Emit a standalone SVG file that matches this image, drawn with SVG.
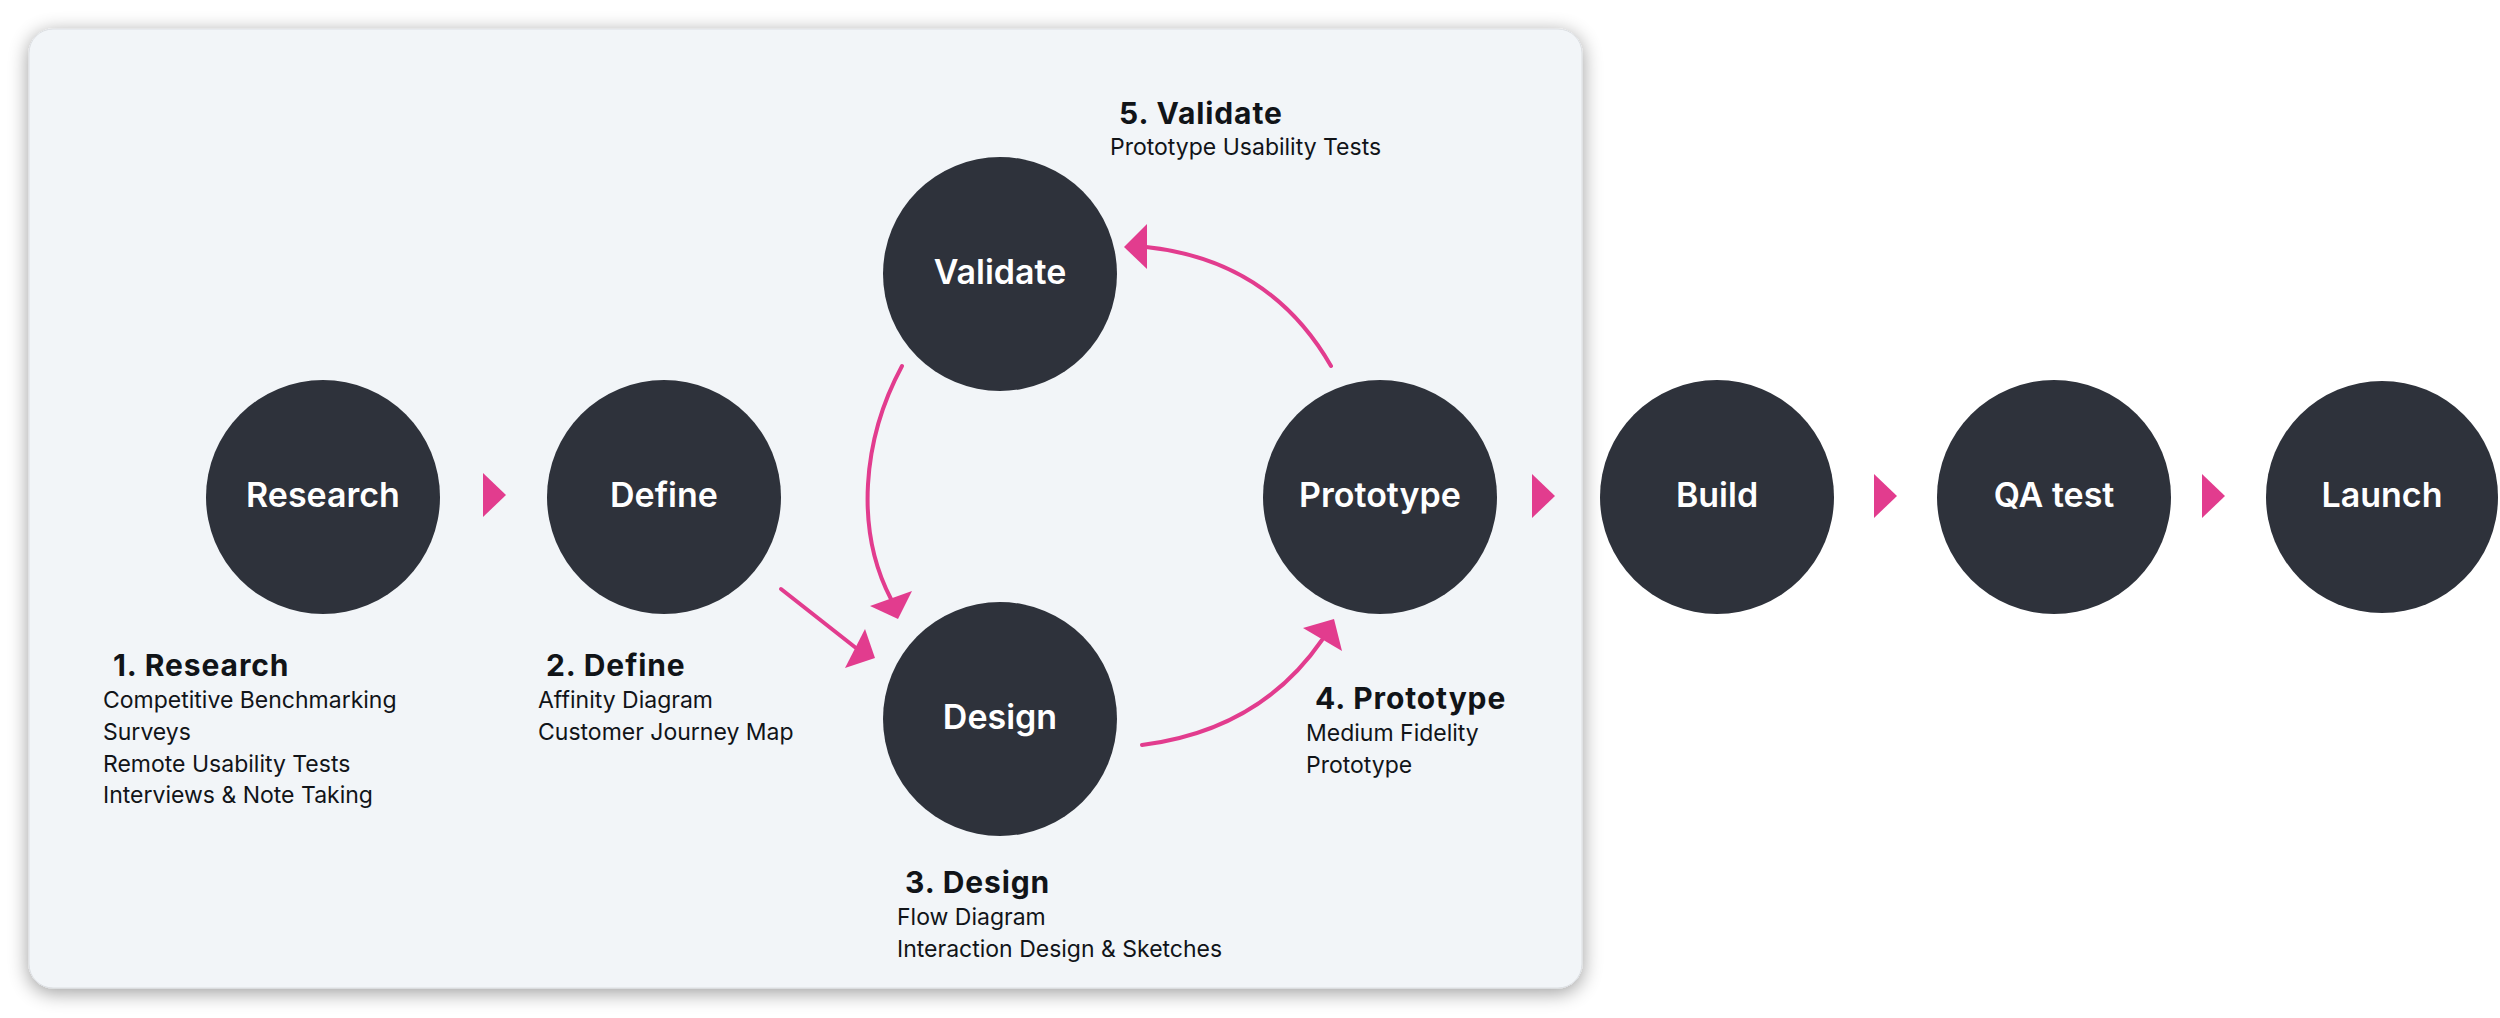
<svg xmlns="http://www.w3.org/2000/svg" width="2500" height="1018" viewBox="0 0 2500 1018">
<defs>
<filter id="sh" x="-5%" y="-8%" width="110%" height="116%">
<feGaussianBlur in="SourceAlpha" stdDeviation="10"/>
<feOffset dy="4" result="b"/>
<feComponentTransfer><feFuncA type="linear" slope="0.4"/></feComponentTransfer>
<feMerge><feMergeNode/><feMergeNode in="SourceGraphic"/></feMerge>
</filter>
<style>
.node{fill:#2E323B}
.nl{font-family:Inter,"Noto Sans",sans-serif;font-weight:600;font-size:34px;fill:#FFFFFF;text-anchor:middle}
.hd{font-family:Inter,"Noto Sans",sans-serif;font-weight:700;font-size:30px;fill:#111418;letter-spacing:0.9px}
.sb{font-family:Inter,"Noto Sans",sans-serif;font-weight:400;font-size:23px;fill:#111418;letter-spacing:0px}
.cn{fill:none;stroke:#E23C8E;stroke-width:4;stroke-linecap:round}
.ah{fill:#E23C8E}
</style>
</defs>
<rect width="2500" height="1018" fill="#FFFFFF"/>
<rect id="panel" x="29" y="29" width="1553" height="959" rx="24" fill="#F2F5F8" stroke="#DCDFE3" stroke-width="1" filter="url(#sh)"/>

<g id="connectors">
<polygon class="ah" points="483,473 483,517 506,495"/>
<polygon class="ah" points="1532,474 1532,518 1555,496"/>
<polygon class="ah" points="1874,474 1874,518 1897,496"/>
<polygon class="ah" points="2202,474 2202,518 2225,496"/>
<path class="cn" d="M781,589 L856,648"/>
<polygon class="ah" points="865,629 875,658 845,668"/>
<path class="cn" d="M902,366 C862,440 855,530 891,599"/>
<polygon class="ah" points="870,606 912,591 898,619"/>
<path class="cn" d="M1142,745 Q1260,730 1322,640"/>
<polygon class="ah" points="1303,628 1334,619 1342,651"/>
<path class="cn" d="M1331,366 Q1270,260 1146,247"/>
<polygon class="ah" points="1147,224 1147,269 1124,247"/>
</g>

<g id="research">
<circle class="node" cx="323" cy="497" r="117"/>
<text class="nl" x="323" y="507">Research</text>
<text class="hd" x="113" y="676">1. Research</text>
<text class="sb" x="103" y="708">Competitive Benchmarking</text>
<text class="sb" x="103" y="740">Surveys</text>
<text class="sb" x="103" y="772">Remote Usability Tests</text>
<text class="sb" x="103" y="803">Interviews &amp; Note Taking</text>
</g>
<g id="define">
<circle class="node" cx="664" cy="497" r="117"/>
<text class="nl" x="664" y="507">Define</text>
<text class="hd" x="546" y="676">2. Define</text>
<text class="sb" x="538" y="708">Affinity Diagram</text>
<text class="sb" x="538" y="740">Customer Journey Map</text>
</g>
<g id="design">
<circle class="node" cx="1000" cy="719" r="117"/>
<text class="nl" x="1000" y="729">Design</text>
<text class="hd" x="905" y="893">3. Design</text>
<text class="sb" x="897" y="925">Flow Diagram</text>
<text class="sb" x="897" y="957">Interaction Design &amp; Sketches</text>
</g>
<g id="prototype">
<circle class="node" cx="1380" cy="497" r="117"/>
<text class="nl" x="1380" y="507">Prototype</text>
<text class="hd" x="1315" y="709">4. Prototype</text>
<text class="sb" x="1306" y="741">Medium Fidelity</text>
<text class="sb" x="1306" y="773">Prototype</text>
</g>
<g id="validate">
<circle class="node" cx="1000" cy="274" r="117"/>
<text class="nl" x="1000" y="284">Validate</text>
<text class="hd" x="1119" y="124">5. Validate</text>
<text class="sb" x="1110" y="155">Prototype Usability Tests</text>
</g>
<g id="build">
<circle class="node" cx="1717" cy="497" r="117"/>
<text class="nl" x="1717" y="507">Build</text>
</g>
<g id="qatest">
<circle class="node" cx="2054" cy="497" r="117"/>
<text class="nl" x="2054" y="507">QA test</text>
</g>
<g id="launch">
<circle class="node" cx="2382" cy="497" r="116"/>
<text class="nl" x="2382" y="507">Launch</text>
</g>
</svg>
